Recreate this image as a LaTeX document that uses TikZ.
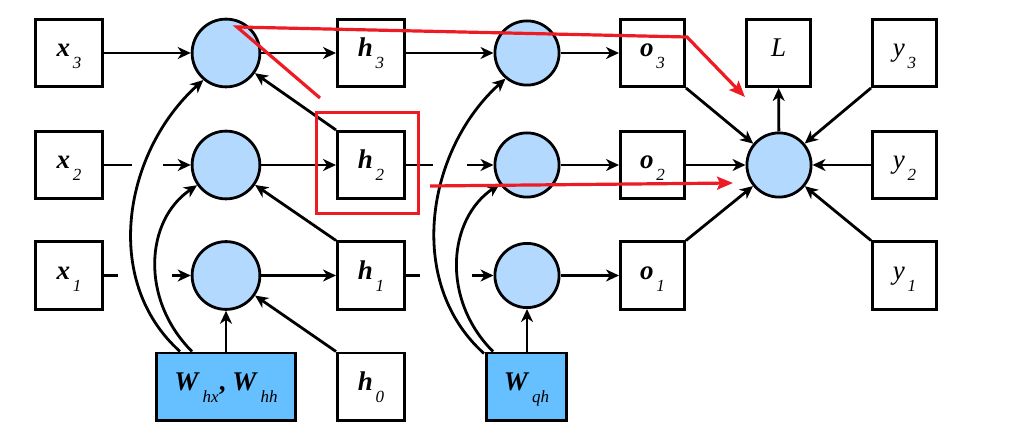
\documentclass[tikz,border=0pt]{standalone}
\usepackage{fontspec}
\setmainfont{Liberation Serif}
\usetikzlibrary{arrows.meta,calc}
\definecolor{cfill}{RGB}{179,217,255}
\definecolor{wfill}{RGB}{102,191,255}
\definecolor{annot}{RGB}{237,28,36}
\newcommand{\vb}[1]{\textbf{\textit{#1}}}
\newcommand{\vsub}[1]{\kern0.1em\raisebox{-0.43em}{\fontsize{17}{17}\selectfont\itshape #1}}
\begin{document}
\begin{tikzpicture}[x=1pt,y=-1pt,
  box/.style={draw, line width=2.8pt, minimum width=67.2pt, minimum height=67.2pt, inner sep=0pt,
    font=\fontsize{27}{30}\selectfont, text height=20pt, text depth=12pt},
  sbox/.style={box, minimum width=64.2pt},
  cell/.style={circle, draw, line width=2.8pt, fill=cfill, minimum size=67.8pt, inner sep=0pt},
  scell/.style={cell, minimum size=64.2pt},
  wbox/.style={box, fill=wfill},
  ln/.style={line width=2.8pt},
  arr/.style={ln, -{Stealth[length=13pt,width=12pt,inset=4pt]}},
  annotline/.style={draw=annot, line width=3.2pt},
  annotarr/.style={annotline, -{Stealth[length=16pt,width=13pt,inset=3pt]}}
]
\useasboundingbox (0,0) rectangle (1032,435);

% input column
\node[box] (x3) at (69,53) {\vb{x}\vsub{3}};
\node[box] (x2) at (69,165) {\vb{x}\vsub{2}};
\node[box] (x1) at (69,275.5) {\vb{x}\vsub{1}};

% hidden cells
\node[cell] (c13) at (226,53) {};
\node[cell] (c12) at (226,165) {};
\node[cell] (c11) at (226,275.5) {};

% hidden states
\node[box] (h3) at (371,53) {\vb{h}\vsub{3}};
\node[box] (h2) at (371,165) {\vb{h}\vsub{2}};
\node[box] (h1) at (371,275.5) {\vb{h}\vsub{1}};
\node[box] (h0) at (371,386.5) {\vb{h}\vsub{0}};

\node[wbox, minimum width=139.2pt] (W1) at (226,386.5) {\vb{W}\vsub{hx}\textbf{,} \vb{W}\vsub{hh}};

% output cells
\node[scell] (c23) at (527,53) {};
\node[scell] (c22) at (527,165) {};
\node[scell] (c21) at (527,275.5) {};
\node[wbox, minimum width=80.2pt] (W2) at (526.5,386.5) {\vb{W}\vsub{qh}};

\node[sbox] (o3) at (652.5,53) {\vb{o}\vsub{3}};
\node[sbox] (o2) at (652.5,165) {\vb{o}\vsub{2}};
\node[sbox] (o1) at (652.5,275.5) {\vb{o}\vsub{1}};

\node[sbox] (L) at (778.5,53) {\textit{L}};
\node[scell] (bigc) at (779,165) {};

\node[sbox] (y3) at (904.5,53) {\textit{y}\vsub{3}};
\node[sbox] (y2) at (904.5,165) {\textit{y}\vsub{2}};
\node[sbox] (y1) at (904.5,275.5) {\textit{y}\vsub{1}};

% gap coordinates
\coordinate (g2a) at (132,165);
\coordinate (g2b) at (163,165);
\coordinate (g1a) at (118,275.5);
\coordinate (g1b) at (172,275.5);
\coordinate (k2a) at (433,165);
\coordinate (k2b) at (467,165);
\coordinate (k1a) at (420,275.5);
\coordinate (k1b) at (472,275.5);

% inputs to cells
\draw[arr] (x3) -- (c13);
\draw[ln] (x2) -- (g2a);
\draw[arr] (g2b) -- (c12);
\draw[ln] (x1) -- (g1a);
\draw[arr] (g1b) -- (c11);

% cells to hidden states
\draw[arr] (c13) -- (h3);
\draw[arr] (c12) -- (h2);
\draw[arr] (c11) -- (h1);

% recurrence
\draw[arr] (h2.north west) -- (c13);
\draw[arr] (h1.north west) -- (c12);
\draw[arr] (h0.north west) -- (c11);

% weights
\draw[arr] (W1.north -| c11) -- (c11);
\draw[arr] ($(W1.north west)+(25,0)$) .. controls +(-80,-72) and +(-78,70) .. (c13.230);
\draw[arr] ($(W1.north west)+(37,0)$) .. controls +(-52,-52) and +(-52,35) .. (c12.215);

\draw[arr] (W2.north -| c21) -- (c21);
\draw[arr] ($(W2.north west)+(-1,2)$) .. controls +(-80,-72) and +(-78,70) .. (c23.230);
\draw[arr] ($(W2.north west)+(8,0)$) .. controls +(-52,-52) and +(-52,35) .. (c22.215);

% hidden states to output cells
\draw[arr] (h3) -- (c23);
\draw[ln] (h2) -- (k2a);
\draw[arr] (k2b) -- (c22);
\draw[ln] (h1) -- (k1a);
\draw[arr] (k1b) -- (c21);

\draw[arr] (c23) -- (o3);
\draw[arr] (c22) -- (o2);
\draw[arr] (c21) -- (o1);

% loss
\draw[arr] (o3.south east) -- (bigc);
\draw[arr] (o2) -- (bigc);
\draw[arr] (o1.north east) -- (bigc);
\draw[arr] (y3.south west) -- (bigc);
\draw[arr] (y2) -- (bigc);
\draw[arr] (y1.north west) -- (bigc);
\draw[arr] (bigc) -- (L);

% red annotations
\node[annotline, minimum width=102pt, minimum height=101pt, inner sep=0pt] (rbox) at (367.5,163) {};
\coordinate (r1) at (320,98);
\coordinate (r2) at (237,27);
\coordinate (r3) at (687,37);
\coordinate (r4) at (745,97);
\draw[annotarr] (r1) -- (r2) -- (r3) -- (r4);
\coordinate (r5) at (430,186);
\coordinate (r6) at (733,183);
\draw[annotarr] (r5) -- (r6);
\end{tikzpicture}
\end{document}
